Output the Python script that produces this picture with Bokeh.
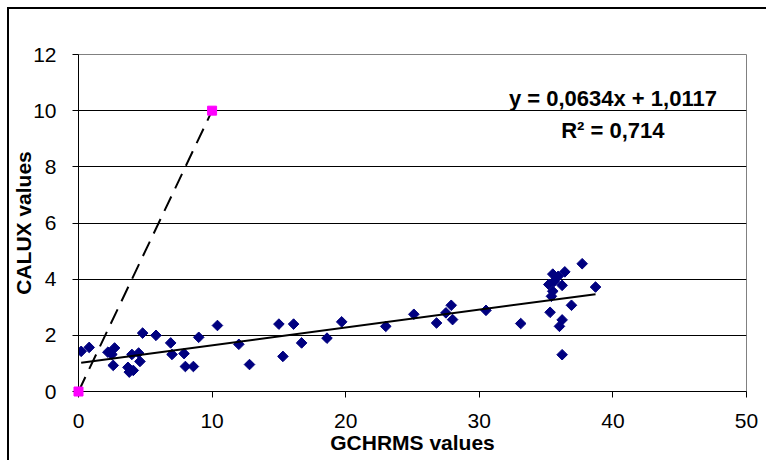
import numpy as np
from bokeh.plotting import figure
from bokeh.models import FixedTicker, Label, Range1d
from bokeh.embed import file_html
from bokeh.resources import INLINE

# Measured samples (GCHRMS vs CALUX)
gchrms = [0.2, 0.8, 2.2, 2.7, 2.5, 2.6, 3.7, 3.8, 4.1, 4.0, 4.5, 4.6, 4.8, 5.8,
          6.9, 7.0, 7.9, 8.0, 8.6, 9.0, 10.4, 12.0, 12.8,
          15.0, 15.3, 16.1, 16.7, 18.6, 19.7, 23.0, 25.1, 26.8,
          27.5, 27.9, 28.0, 30.5, 33.1,
          35.2, 35.3, 35.4, 35.5, 35.5, 35.9, 36.4, 36.2, 36.9, 37.7, 38.7,
          36.2, 36.0, 36.2, 35.6]
calux = [1.43, 1.57, 1.40, 1.55, 1.32, 0.93, 0.86, 0.69, 0.75, 1.32, 1.37, 1.07, 2.08, 2.00,
         1.73, 1.32, 1.35, 0.89, 0.89, 1.93, 2.35, 1.68, 0.96,
         2.40, 1.25, 2.40, 1.73, 1.90, 2.48, 2.32, 2.75, 2.44,
         2.80, 3.07, 2.56, 2.89, 2.42,
         3.81, 2.82, 3.39, 3.57, 4.18, 4.10, 4.26, 3.78, 3.07, 4.55, 3.72,
         2.55, 2.32, 1.31, 3.92]

# 1:1 reference points
ref_x = [0, 10]
ref_y = [0, 10]

# Linear trendline
slope = 0.0634
intercept = 1.0117
r_squared = 0.714

x_ticks = [0, 10, 20, 30, 40, 50]
y_ticks = [0, 2, 4, 6, 8, 10, 12]
y_grid = [2, 4, 6, 8, 10]

p = figure(width=759, height=453, output_backend="svg", toolbar_location=None,
           x_range=Range1d(0, 50), y_range=Range1d(0, 12),
           min_border_left=68, min_border_top=45, min_border_right=22, min_border_bottom=71,
           background_fill_color="white", border_fill_color="white")
# chart-area border (left and top edges visible, rest cut off)
p.styles = {"margin-left": "7px", "margin-top": "7px",
            "border-left": "2px solid black", "border-top": "2px solid black"}

p.outline_line_color = "#808080"
p.outline_line_width = 1

p.xgrid.visible = False
p.ygrid.ticker = FixedTicker(ticks=y_grid)
p.ygrid.grid_line_color = "black"
p.ygrid.grid_line_width = 1

for ax, ticks in ((p.xaxis, x_ticks), (p.yaxis, y_ticks)):
    ax.ticker = FixedTicker(ticks=ticks)
    ax.axis_line_color = "black"
    ax.axis_line_width = 1
    ax.major_tick_line_color = "black"
    ax.major_tick_out = 6
    ax.major_tick_in = 0
    ax.minor_tick_line_color = None
    ax.major_label_text_font = "Liberation Sans"
    ax.major_label_text_font_size = "21px"
    ax.major_label_text_color = "black"
    ax.axis_label_text_font = "Liberation Sans"
    ax.axis_label_text_font_style = "bold"
    ax.axis_label_text_font_size = "21px"
    ax.axis_label_text_color = "black"

p.xaxis.axis_label = "GCHRMS values"
p.yaxis.axis_label = "CALUX values"
p.xaxis.major_label_standoff = 16
p.yaxis.major_label_standoff = 16
p.xaxis.axis_label_standoff = 0
p.yaxis.axis_label_standoff = -5

# data points
p.scatter(gchrms, calux, marker="square", angle=np.pi / 4, size=7.5,
          fill_color="#000080", line_color="#000080")

# trendline
tx = [min(gchrms), max(gchrms)]
ty = [slope * v + intercept for v in tx]
p.line(tx, ty, line_color="black", line_width=2)

# dashed 1:1 line
p.line(ref_x, ref_y, line_color="black", line_width=2, line_dash="16 9")
p.scatter(ref_x, ref_y, marker="square", size=9, fill_color="#FF00FF", line_color="#FF00FF",
          level="overlay")

eq_text = "y = {}x + {}".format(f"{slope:.4f}".replace(".", ","), f"{intercept:.4f}".replace(".", ","))
r_text = "R\u00b2 = " + f"{r_squared:.3f}".replace(".", ",")
p.add_layout(Label(x=40.0, y=10.45, text=eq_text, text_align="center", text_baseline="middle",
                   text_font="Liberation Sans", text_font_style="bold", text_font_size="22px",
                   text_color="black"))
p.add_layout(Label(x=40.0, y=9.3, text=r_text, text_align="center", text_baseline="middle",
                   text_font="Liberation Sans", text_font_style="bold", text_font_size="22px",
                   text_color="black"))

open("out.html", "w").write(file_html(p, INLINE))
